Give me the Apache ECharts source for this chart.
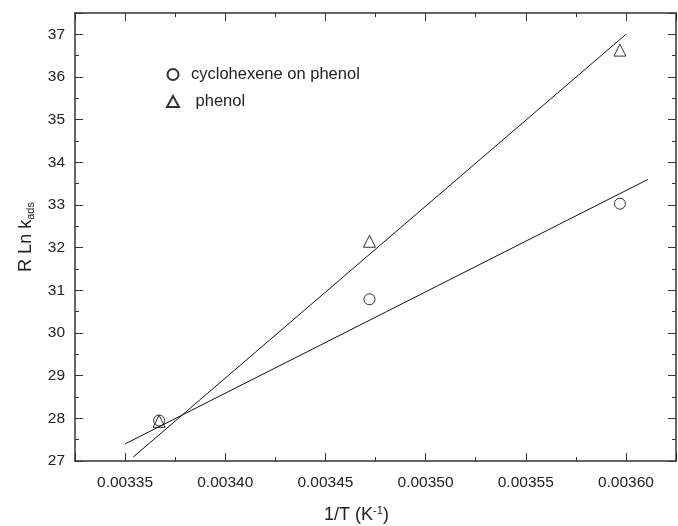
<!DOCTYPE html>
<html>
<head>
<meta charset="utf-8">
<script src="https://cdn.jsdelivr.net/npm/echarts@6/dist/echarts.min.js"></script>
<style>html,body{margin:0;padding:0;background:#fff;}#c{width:678px;height:526px;}</style>
</head>
<body>
<div id="c"></div>
<script>
// Data
const invT = [0.003367, 0.003472, 0.003597];
const cycloValues = [27.95, 30.79, 33.03];
const phenolValues = [27.93, 32.15, 36.63];
// fitted lines (end points)
const cycloFitX = [0.00335, 0.003611];
const cycloFitY = [27.4, 33.6];
const phenolFitX = [0.003354, 0.0036];
const phenolFitY = [27.09, 37.0];
const seriesNames = ['cyclohexene on phenol', ' phenol'];

const zip = (a, b) => a.map((v, i) => [v, b[i]]);
const font = 'Liberation Sans, Arial, Helvetica, sans-serif';
const axisColor = '#333';

function xLabel(v) {
  const s = v * 1e5;
  if (Math.abs(s - Math.round(s)) > 1e-4 || Math.round(s) % 5 !== 0) return '';
  return v.toFixed(5);
}
function yLabel(v) {
  if (Math.abs(v - Math.round(v)) > 1e-6) return '';
  return String(Math.round(v));
}

const xCommon = {
  type: 'value', min: 0.003325, max: 0.003625, splitNumber: 6,
  axisLine: { onZero: false, lineStyle: { color: axisColor, width: 1.5 } },
  axisTick: { inside: true, length: 8, lineStyle: { color: axisColor, width: 1 } },
  minorTick: { show: true, splitNumber: 2, length: 4, lineStyle: { color: axisColor, width: 1 } },
  splitLine: { show: false }
};
const yCommon = {
  type: 'value', min: 27, max: 37.5, interval: 1,
  axisLine: { onZero: false, lineStyle: { color: axisColor, width: 1.5 } },
  axisTick: { inside: true, length: 8, lineStyle: { color: axisColor, width: 1 } },
  minorTick: { show: true, splitNumber: 2, length: 4, lineStyle: { color: axisColor, width: 1 } },
  splitLine: { show: false }
};

const chart = echarts.init(document.getElementById('c'), null, { renderer: 'canvas' });
chart.setOption({
  backgroundColor: '#fff',
  animation: false,
  grid: { left: 75, right: 2, top: 13, bottom: 65, containLabel: false, outerBoundsMode: 'none' },
  legend: {
    orient: 'vertical', left: 161, top: 61,
    itemWidth: 12, itemHeight: 11, itemGap: 10,
    data: seriesNames,
    textStyle: { fontFamily: font, fontSize: 16.5, color: '#222', padding: [0, 0, 0, 7] }
  },
  xAxis: [
    Object.assign({}, xCommon, {
      position: 'bottom',
      name: '{a|1/T (K}{s|-1}{a|)}', nameLocation: 'middle', nameGap: 44,
      nameTextStyle: { padding: [0, 38, 0, 0], rich: {
        a: { fontFamily: font, fontSize: 18, color: '#222' },
        s: { fontFamily: font, fontSize: 11, color: '#222', verticalAlign: 'top', padding: [0, 0, 10, 0] }
      } },
      axisLabel: { formatter: xLabel, fontFamily: font, fontSize: 15.5, color: '#222', margin: 14 }
    }),
    Object.assign({}, xCommon, { position: 'top', axisLabel: { show: false } })
  ],
  yAxis: [
    Object.assign({}, yCommon, {
      position: 'left',
      name: '{a|R Ln k}{s|ads}', nameLocation: 'middle', nameGap: 35, nameRotate: 90,
      nameTextStyle: { rich: {
        a: { fontFamily: font, fontSize: 18, color: '#222' },
        s: { fontFamily: font, fontSize: 11, color: '#222', verticalAlign: 'bottom', padding: [10, 0, 0, 0] }
      } },
      axisLabel: { formatter: yLabel, fontFamily: font, fontSize: 15.5, color: '#222', margin: 10 }
    }),
    Object.assign({}, yCommon, { position: 'right', axisLabel: { show: false } })
  ],
  series: [
    {
      name: seriesNames[0], type: 'scatter', symbol: 'circle', symbolSize: 11,
      itemStyle: { color: 'rgba(255,255,255,0)', borderColor: '#000', borderWidth: 1 },
      data: zip(invT, cycloValues), z: 5
    },
    {
      name: seriesNames[1], type: 'scatter', symbol: 'triangle', symbolSize: 12,
      itemStyle: { color: 'rgba(255,255,255,0)', borderColor: '#000', borderWidth: 1 },
      data: zip(invT, phenolValues), z: 5
    },
    {
      name: 'cyclo fit', type: 'line', symbol: 'none', silent: true,
      lineStyle: { color: '#111', width: 1 },
      data: zip(cycloFitX, cycloFitY)
    },
    {
      name: 'phenol fit', type: 'line', symbol: 'none', silent: true,
      lineStyle: { color: '#111', width: 1 },
      data: zip(phenolFitX, phenolFitY)
    }
  ]
});
</script>
</body>
</html>
